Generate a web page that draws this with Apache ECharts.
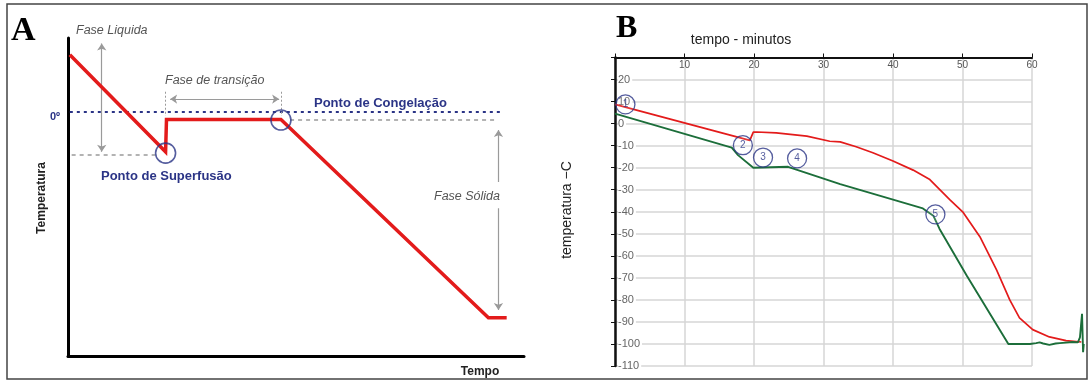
<!DOCTYPE html>
<html>
<head>
<meta charset="utf-8">
<script src="https://cdn.jsdelivr.net/npm/echarts@6/dist/echarts.min.js"></script>
<style>
  html, body { margin: 0; padding: 0; background: #fff; }
  #main { width: 1092px; height: 380px; }
</style>
</head>
<body>
<div id="main"></div>
<script>
// ---- painel A (esquema, unidades arbitrarias 0..100) ----
var curvaA = [[0.4, 94.7], [21.4, 64.2], [21.6, 74.4], [46.7, 74.4], [92.2, 12.0], [96.2, 12.0]];
var linhaCongelacao = [[0.4, 76.8], [94.7, 76.8]];
var tracejadoPlato = [[48.7, 74.4], [93.6, 74.4]];
var tracejadoSuperfusao = [[0.8, 63.4], [19.1, 63.4]];
var guiasTransicao = [[[21.4, 83.1], [21.4, 75.5]], [[46.7, 83.1], [46.7, 75.5]]];
var setaTransicao = [[22.4, 80.8], [46.3, 80.8]];
var setaLiquida = [[7.4, 98.3], [7.4, 64.2]];
var setaSolidaCima = [[94.4, 54.7], [94.4, 71.1]];
var setaSolidaBaixo = [[94.4, 46.5], [94.4, 14.5]];
var circulosA = [[21.4, 63.8], [46.7, 74.2]];

// ---- painel B (tempo em minutos, temperatura em C) ----
var tempoTicks = [0, 10, 20, 30, 40, 50, 60];
var tempoMaxDados = 68; // a curva passa do fim da grelha (60 min)
var curvaVermelha = [
  [0, 8.7], [19.4, -7.6], [19.9, -3.9], [20.4, -3.8], [23.2, -4.2], [27.6, -5.7],
  [30.9, -8.0], [32.4, -8.3], [34.7, -10.5], [37.1, -13.2], [40, -17.0],
  [42.9, -21.1], [45.3, -25.4], [48.2, -34.6], [50.1, -40.3], [52.5, -51.3],
  [54.9, -66.4], [56.8, -80.0], [58.2, -88.2], [60.1, -93.5], [62.5, -96.8],
  [64.9, -98.5], [67.1, -99.1]
];
var curvaVerde = [
  [0, 4.5], [16.8, -10.9], [17.7, -14.3], [19.9, -20.0], [24.9, -19.6],
  [32.4, -27.5], [44.3, -38.5], [45.8, -41.8], [46.7, -47.8], [50.6, -68.9],
  [56.6, -100], [59.7, -100], [60.6, -99.6], [61.1, -99.3], [61.6, -99.8],
  [62.5, -100.4], [63.4, -99.8], [64.0, -99.6], [65.9, -99.1], [66.6, -99.3],
  [66.9, -97.0], [67.2, -86.3], [67.35, -103.7], [67.45, -100]
];
var pontosNumerados = [[1.5, 8.7, '1'], [18.4, -9.8, '2'], [21.3, -15.4, '3'], [26.2, -15.8, '4'], [46.1, -41.2, '5']];

var azul = '#2b3486';
var cinza = '#9a9a9a';
var vermelho = '#e31b1b';

var gradeB = { left: 615, top: 57.5, width: 417, height: 308.5 };

var myChart = echarts.init(document.getElementById('main'));

function segmento(pts, estilo, simbolos) {
    return {
        type: 'lines', coordinateSystem: 'cartesian2d', xAxisIndex: 0, yAxisIndex: 0,
        symbol: simbolos || ['none', 'none'], symbolSize: 7,
        lineStyle: estilo, silent: true, z: 3,
        data: [{ coords: pts }]
    };
}

var seriesA = [
    segmento(linhaCongelacao, { color: azul, width: 2, type: [3, 4], opacity: 1 }),
    segmento(tracejadoPlato, { color: cinza, width: 1.5, type: [4, 4], opacity: 1 }),
    segmento(tracejadoSuperfusao, { color: cinza, width: 1.5, type: [4, 4], opacity: 1 }),
    segmento(guiasTransicao[0], { color: cinza, width: 1, type: [2, 2], opacity: 1 }),
    segmento(guiasTransicao[1], { color: cinza, width: 1, type: [2, 2], opacity: 1 }),
    segmento(setaTransicao, { color: cinza, width: 1.2, opacity: 1 }, ['arrow', 'arrow']),
    segmento(setaLiquida, { color: cinza, width: 1.2, opacity: 1 }, ['arrow', 'arrow']),
    segmento(setaSolidaCima, { color: cinza, width: 1.2, opacity: 1 }, ['none', 'arrow']),
    segmento(setaSolidaBaixo, { color: cinza, width: 1.2, opacity: 1 }, ['none', 'arrow']),
    {
        type: 'line', xAxisIndex: 0, yAxisIndex: 0, data: curvaA, symbol: 'none',
        lineStyle: { color: vermelho, width: 3.5, join: 'miter' }, z: 4, silent: true
    },
    {
        type: 'scatter', xAxisIndex: 0, yAxisIndex: 0, data: circulosA, symbol: 'circle', symbolSize: 20,
        itemStyle: { color: 'rgba(0,0,0,0)', borderColor: azul, borderWidth: 1.6 }, z: 5, silent: true
    }
];

// curvas do painel B numa grelha invisivel mais larga (0..68 min) com a mesma escala
var seriesB = [
    {
        type: 'line', xAxisIndex: 2, yAxisIndex: 2, data: curvaVermelha, symbol: 'none',
        lineStyle: { color: vermelho, width: 1.7 }, z: 4, silent: true
    },
    {
        type: 'line', xAxisIndex: 2, yAxisIndex: 2, data: curvaVerde, symbol: 'none',
        lineStyle: { color: '#1c6e3a', width: 1.9 }, z: 4, silent: true
    },
    {
        type: 'scatter', xAxisIndex: 2, yAxisIndex: 2, symbol: 'circle', symbolSize: 19,
        data: pontosNumerados.map(function (p) { return { value: [p[0], p[1]], name: p[2] }; }),
        itemStyle: { color: 'rgba(255,255,255,0.15)', borderColor: azul, borderWidth: 1.3 },
        label: { show: true, position: 'inside', formatter: '{b}', color: azul, fontSize: 10, fontFamily: 'Liberation Sans' },
        z: 5, silent: true
    }
];

var tempoMax = tempoTicks[tempoTicks.length - 1];

myChart.setOption({
    animation: false,
    backgroundColor: '#fff',
    textStyle: { fontFamily: 'Liberation Sans' },
    grid: [
        { left: 68, top: 38, width: 456, height: 318 },
        gradeB,
        { left: gradeB.left, top: gradeB.top, width: gradeB.width * tempoMaxDados / tempoMax, height: gradeB.height }
    ],
    xAxis: [
        {
            gridIndex: 0, type: 'value', min: 0, max: 100,
            axisLine: { show: true, onZero: false, lineStyle: { color: '#000', width: 3 } },
            axisTick: { show: false }, axisLabel: { show: false }, splitLine: { show: false }
        },
        {
            gridIndex: 1, type: 'value', position: 'top', min: tempoTicks[0], max: tempoMax, interval: 10,
            axisLine: { show: true, onZero: false, lineStyle: { color: '#111', width: 2 } },
            axisTick: { show: true, length: 4, lineStyle: { color: '#111', width: 1 } },
            axisLabel: {
                inside: true, margin: 3, fontSize: 10, color: '#555',
                formatter: function (v) { return v === 0 ? '' : v; }
            },
            splitLine: { show: true, lineStyle: { color: '#d6d6d6', width: 1.5 } }
        },
        {
            gridIndex: 2, type: 'value', min: 0, max: tempoMaxDados, show: false
        }
    ],
    yAxis: [
        {
            gridIndex: 0, type: 'value', min: 0, max: 100,
            axisLine: { show: true, onZero: false, lineStyle: { color: '#000', width: 3 } },
            axisTick: { show: false }, axisLabel: { show: false }, splitLine: { show: false }
        },
        {
            gridIndex: 1, type: 'value', min: -110, max: 30, interval: 10,
            axisLine: { show: true, onZero: false, lineStyle: { color: '#111', width: 2.5 } },
            axisTick: { show: true, length: 4, lineStyle: { color: '#111', width: 1 } },
            axisLabel: {
                inside: true, margin: 3, fontSize: 11, color: '#666',
                backgroundColor: '#fff', padding: [0, 2, 0, 0],
                formatter: function (v) { return v === 30 ? '' : v; }
            },
            splitLine: { show: true, lineStyle: { color: '#d6d6d6', width: 1.5 } }
        },
        {
            gridIndex: 2, type: 'value', min: -110, max: 30, show: false
        }
    ],
    series: seriesA.concat(seriesB),
    graphic: [
        { type: 'rect', shape: { x: 7, y: 4, width: 1080, height: 375 }, style: { fill: 'none', stroke: '#444', lineWidth: 1.5 }, silent: true },
        { type: 'text', x: 11, y: 14, style: { text: 'A', font: 'bold 34px "Liberation Serif"', fill: '#000' } },
        { type: 'text', x: 616, y: 13, style: { text: 'B', font: 'bold 32px "Liberation Serif"', fill: '#000' } },
        { type: 'text', x: 76, y: 31, style: { text: 'Fase Liquida', font: 'italic 12.5px "Liberation Sans"', fill: '#555', verticalAlign: 'middle' } },
        { type: 'text', x: 165, y: 81, style: { text: 'Fase de transição', font: 'italic 12.5px "Liberation Sans"', fill: '#555', verticalAlign: 'middle' } },
        { type: 'text', x: 314, y: 103, style: { text: 'Ponto de Congelação', font: 'bold 13px "Liberation Sans"', fill: azul, verticalAlign: 'middle' } },
        { type: 'text', x: 50, y: 117, style: { text: '0º', font: 'bold 11px "Liberation Sans"', fill: azul, verticalAlign: 'middle' } },
        { type: 'text', x: 101, y: 176, style: { text: 'Ponto de Superfusão', font: 'bold 13px "Liberation Sans"', fill: azul, verticalAlign: 'middle' } },
        { type: 'text', x: 434, y: 197, style: { text: 'Fase Sólida', font: 'italic 12.5px "Liberation Sans"', fill: '#555', verticalAlign: 'middle' } },
        { type: 'text', x: 42, y: 198, rotation: Math.PI / 2, style: { text: 'Temperatura', font: 'bold 12px "Liberation Sans"', fill: '#222', align: 'center', verticalAlign: 'middle' } },
        { type: 'text', x: 480, y: 372, style: { text: 'Tempo', font: 'bold 12px "Liberation Sans"', fill: '#222', align: 'center', verticalAlign: 'middle' } },
        { type: 'text', x: 741, y: 40, style: { text: 'tempo - minutos', font: '14px "Liberation Sans"', fill: '#222', align: 'center', verticalAlign: 'middle' } },
        { type: 'text', x: 567, y: 210, rotation: Math.PI / 2, style: { text: 'temperatura −C', font: '14px "Liberation Sans"', fill: '#222', align: 'center', verticalAlign: 'middle' } }
    ]
});
</script>
</body>
</html>
